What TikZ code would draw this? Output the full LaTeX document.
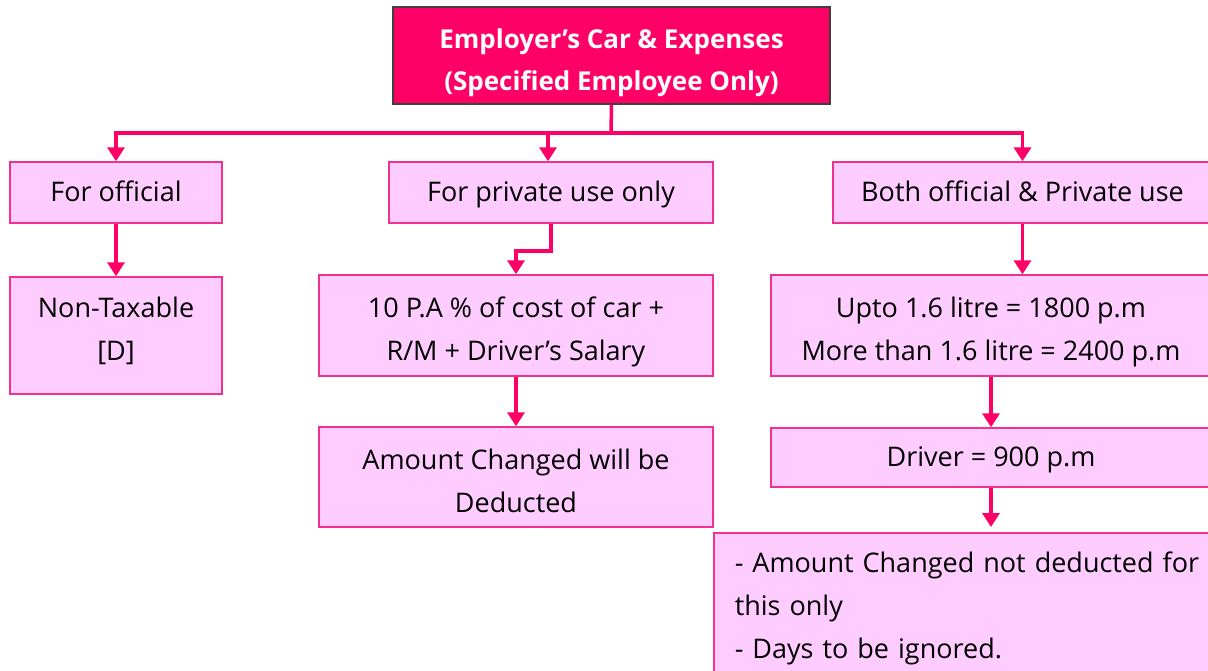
\documentclass[tikz,border=0pt]{standalone}
\usepackage{fontspec}
\setmainfont{Open Sans}
\usepackage{xcolor}
\definecolor{Hot}{RGB}{255,0,102}
\definecolor{Pale}{RGB}{255,204,255}
\definecolor{Rim}{RGB}{240,50,140}
\usepackage{tikz}
\usetikzlibrary{arrows.meta}
\newcommand{\Lift}{\rule{0pt}{40pt}}
\tikzstyle{TopBox}=[rectangle,draw=black!75,fill=Hot,text=white,line width=1.5pt,
inner sep=0pt,align=center,font=\fontsize{26}{42}\selectfont\bfseries]
\tikzstyle{Box}=[rectangle,draw=Rim,fill=Pale,line width=1.5pt,inner sep=0pt,
align=center,font=\fontsize{27}{43}\selectfont,
execute at begin node=\strut,execute at end node=\strut]
\tikzstyle{Line}=[draw=Hot,line width=3.5pt]
\tikzstyle{Edge}=[Line,-{Triangle[length=14pt,width=17pt]}]

\begin{document}
\begin{tikzpicture}[x=1pt,y=-1pt]
        \clip(0,0)rectangle(1208,670);
        \fill[white](0,0)rectangle(1208,670);
        % boxes
        \node[TopBox,minimum width=437pt,minimum height=97pt](top)at(611.5,55.5){\Lift Employer’s Car \& Expenses\\(Specified Employee Only)\strut};
        \node[Box,minimum width=212pt,minimum height=61pt](fo)at(116,192.5){For official};
        \node[Box,minimum width=324pt,minimum height=61pt](pr)at(551,192.5){For private use only};
        \node[Box,minimum width=379pt,minimum height=61pt](bo)at(1022.5,192.5){Both official \& Private use};
        \node[Box,minimum width=212pt,minimum height=117pt](nt)at(116,335.5){Non-Taxable\\{[D]}};
        \node[Box,minimum width=394pt,minimum height=101pt](co)at(516,325.5){\Lift 10 P.A \% of cost of car +\\R/M + Driver’s Salary};
        \node[Box,minimum width=394pt,minimum height=100pt](de)at(516,477){\Lift Amount Changed will be\\Deducted};
        \node[Box,minimum width=440pt,minimum height=101pt](li)at(991,325.5){\Lift Upto 1.6 litre = 1800 p.m\\More than 1.6 litre = 2400 p.m};
        \node[Box,minimum width=440pt,minimum height=59pt](dr)at(991,457.5){Driver = 900 p.m};
        \node[Box,anchor=north west,align=left,text width=520pt,inner xsep=21pt,inner ysep=10pt](la)at(713,532){- Amount Changed not deducted for\\this only\\- Days to be ignored.};
        % connectors
        \coordinate(j)at(611,133);
        \draw[Line](top.south)--(j);
        \draw[Edge](j)-|(fo.north);
        \draw[Edge](j)-|([xshift=-3pt]pr.north);
        \draw[Edge](j)-|(bo.north);
        \draw[Edge](fo.south)--(nt.north);
        \draw[Edge](pr.south)--++(0,27)-|(co.north);
        \draw[Edge](co.south)--(de.north);
        \draw[Edge](bo.south)--(bo.south|-li.north);
        \draw[Edge](li.south)--(dr.north);
        \draw[Edge,shorten >=5pt](dr.south)--(dr.south|-la.north);
    \end{tikzpicture}
\end{document}
